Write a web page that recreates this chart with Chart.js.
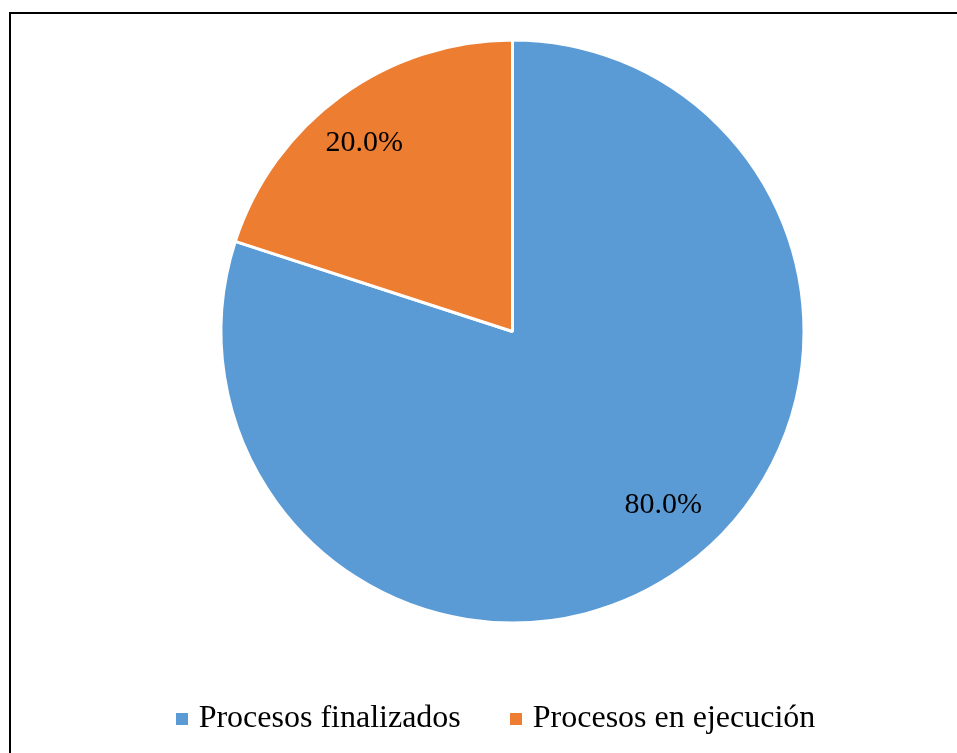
<!DOCTYPE html>
<html>
<head>
<meta charset="utf-8">
<script src="https://cdn.jsdelivr.net/npm/chart.js@4.4.1/dist/chart.umd.min.js"></script>
<style>
  html, body { margin: 0; padding: 0; background: #fff; overflow: hidden; }
  #wrap { position: relative; width: 957px; height: 753px; }
  #frame {
    position: absolute; left: 9px; top: 12px; width: 1000px; height: 800px;
    border-left: 2px solid #000; border-top: 2px solid #000; box-sizing: border-box;
  }
  canvas { position: absolute; left: 0; top: 0; }
</style>
</head>
<body>
<div id="wrap">
  <div id="frame"></div>
  <canvas id="c" width="957" height="753"></canvas>
</div>
<script>
// Process status breakdown
const categories = ['Procesos finalizados', 'Procesos en ejecución'];
const shares = [80.0, 20.0];
const sliceColors = ['#5B9BD5', '#ED7D31'];

const FONT = '"Liberation Serif", "Times New Roman", serif';

// Small filled square used as a legend marker
function squareMarker(color, size) {
  const c = document.createElement('canvas');
  c.width = size; c.height = size;
  const g = c.getContext('2d');
  g.fillStyle = color;
  g.fillRect(0, 0, size, size);
  return c;
}

// Percentage labels placed inside each slice
const sliceLabels = {
  id: 'sliceLabels',
  afterDatasetsDraw(chart, args, opts) {
    const ctx = chart.ctx;
    const meta = chart.getDatasetMeta(0);
    ctx.save();
    ctx.font = opts.size + 'px ' + FONT;
    ctx.fillStyle = '#000';
    ctx.textAlign = 'center';
    ctx.textBaseline = 'middle';
    meta.data.forEach((arc, i) => {
      const p = arc.getProps(['x', 'y', 'startAngle', 'endAngle', 'outerRadius'], true);
      const place = opts.place[i];
      const a = (p.startAngle + p.endAngle) / 2 + place.da * Math.PI / 180;
      const r = p.outerRadius * place.r;
      const v = chart.data.datasets[0].data[i];
      ctx.fillText(v.toFixed(1) + '%', p.x + Math.cos(a) * r, p.y + Math.sin(a) * r + opts.dy);
    });
    ctx.restore();
  }
};

// Moves the legend row to its spot under the pie
const legendPlacer = {
  id: 'legendPlacer',
  afterLayout(chart, args, opts) {
    const lg = chart.legend;
    if (!lg) return;
    const pad = lg.options.labels.padding;
    const itemH = lg.height - pad - 10;
    const top = opts.centerY - pad - itemH / 2;
    const dy = top - lg.top;
    lg.top += dy; lg.bottom += dy;
    lg.left += opts.dx; lg.right += opts.dx;
  }
};

const baseLabels = Chart.overrides.pie.plugins.legend.labels.generateLabels;

new Chart(document.getElementById('c'), {
  type: 'pie',
  data: {
    labels: categories,
    datasets: [{
      data: shares,
      backgroundColor: sliceColors,
      borderColor: '#ffffff',
      borderWidth: 3
    }]
  },
  options: {
    responsive: false,
    animation: false,
    radius: 291.5,
    layout: { padding: { left: 68, right: 0, top: 7, bottom: 0 } },
    plugins: {
      tooltip: { enabled: false },
      legend: {
        position: 'bottom',
        labels: {
          font: { family: FONT, size: 32 },
          color: '#000',
          usePointStyle: true,
          pointStyleWidth: 1,
          boxHeight: 12,
          padding: 55,
          generateLabels(chart) {
            return baseLabels(chart).map((item, i) => {
              item.pointStyle = squareMarker(sliceColors[i], 12);
              return item;
            });
          }
        }
      },
      legendPlacer: { centerY: 718.5, dx: -14 },
      sliceLabels: {
        size: 30,
        dy: -2.5,
        place: [ { r: 0.795, da: -4.6 }, { r: 0.815, da: -2.6 } ]
      }
    }
  },
  plugins: [sliceLabels, legendPlacer]
});
</script>
</body>
</html>
